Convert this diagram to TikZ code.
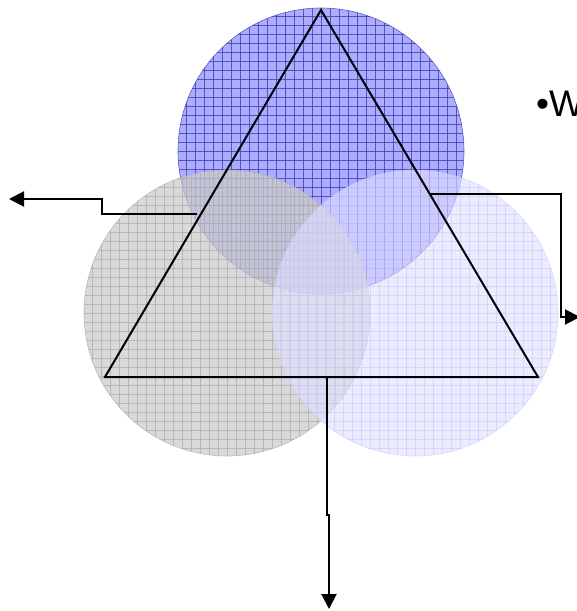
\documentclass[tikz,border=0pt]{standalone}
\usepackage{fontspec}
\setmainfont{Liberation Sans}
\usetikzlibrary{arrows.meta}

\tikzset{
  side/.style={line width=2pt, line join=miter},
  feed/.style={line width=2pt, -{Triangle[length=15pt,width=15pt]}},
}

% disc with a mesh of fine lines: centre x, centre y, fill, mesh colour, opacity
\newcommand{\meshdisc}[5]{%
  \begin{scope}[opacity=#5]
    \fill[#3] (#1,#2) circle (143pt);
    \clip (#1,#2) circle (143pt);
    \foreach \k in {-144,-135,...,144} {
      \draw[#4, line width=0.6pt] (#1+\k,#2-150) -- (#1+\k,#2+150);
      \draw[#4, line width=0.6pt] (#1-150,#2+\k) -- (#1+150,#2+\k);
    }
  \end{scope}
  \draw[#4, line width=0.6pt, opacity=#5] (#1,#2) circle (143pt);
}

\begin{document}
\begin{tikzpicture}[x=1pt, y=-1pt]
    \useasboundingbox (0,0) rectangle (577,611);

    % Circles
    \meshdisc{321}{151}{blue!40}{blue!60!black!75}{0.8}
    \meshdisc{227}{313}{black!20}{black!32}{0.75}
    \meshdisc{415}{313}{blue!12}{blue!22}{0.6}

    % Triangle
    \coordinate (apex) at (321,10);
    \coordinate (left) at (105,377);
    \coordinate (right) at (538,377);
    \draw[side] (apex) -- (left) -- (right) -- cycle;

    % Outputs
    \coordinate (outL) at (197,214);
    \coordinate (outR) at (430,194);
    \coordinate (outB) at (327,377);
    \coordinate (endL) at (9,199);
    \coordinate (endR) at (580,317);
    \coordinate (endB) at (329,609);
    \draw[feed] (outL) -- (102,214) -- (102,199) -- (endL);
    \draw[feed] (outR) -- (561,194) -- (561,317) -- (endR);
    \draw[feed] (outB) -- (327,515) -- (329,515) -- (endB);

    % Text
    \node[anchor=west, inner sep=0pt, font=\fontsize{37}{40}\selectfont] (bullet) at (536,104) {•W};
\end{tikzpicture}
\end{document}
